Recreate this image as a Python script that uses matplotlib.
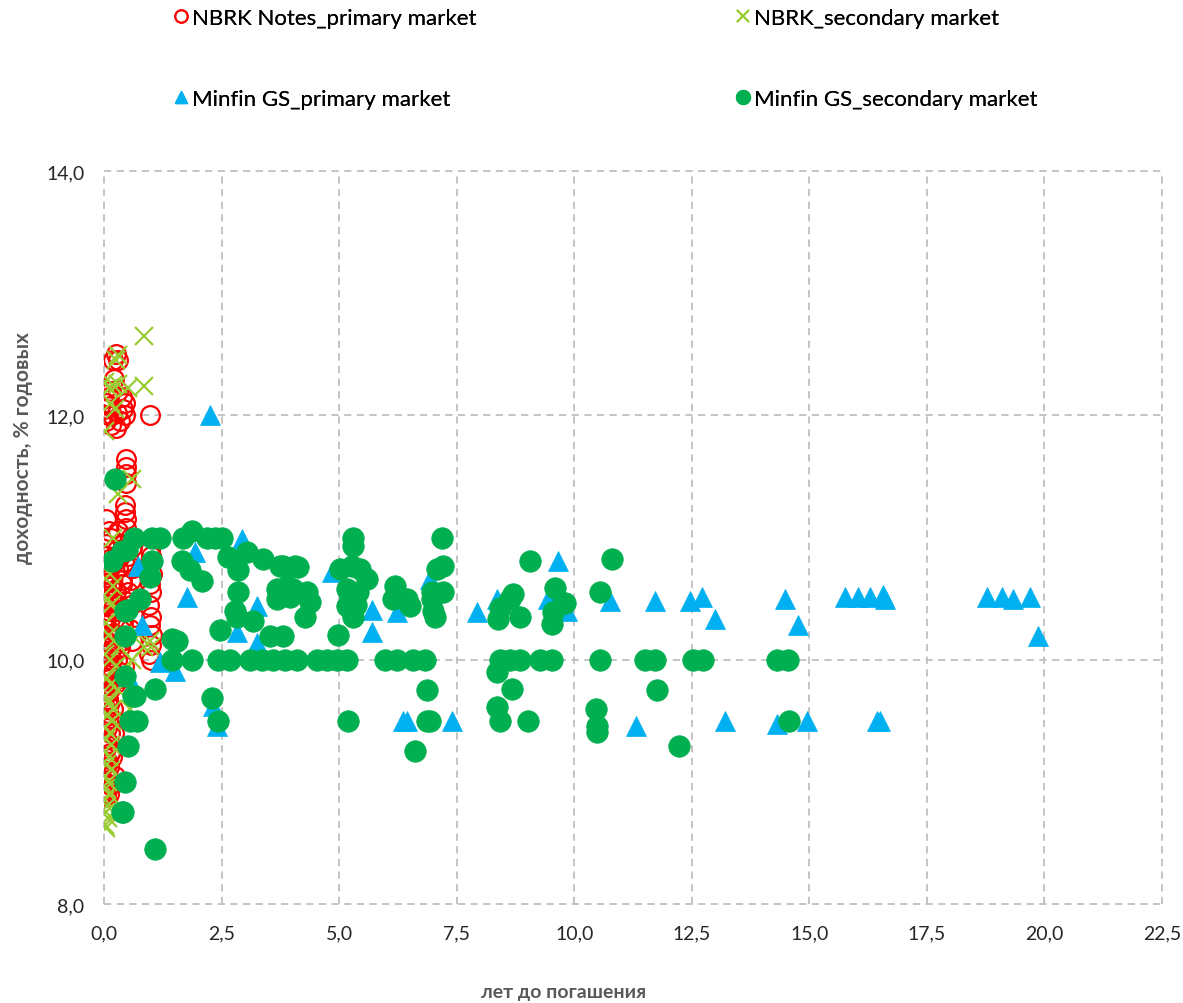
import matplotlib
matplotlib.use("Agg")
import matplotlib.pyplot as plt
from matplotlib.lines import Line2D
from matplotlib.ticker import FuncFormatter

plt.rcParams['font.family'] = ['Lato', 'DejaVu Sans']

# ---------------- data ----------------
series_names = ["NBRK Notes_primary market", "NBRK_secondary market",
                "Minfin GS_primary market", "Minfin GS_secondary market"]

nbrk_primary_x = [0.25, 0.20, 0.30, 0.22, 0.05, 0.10, 0.15, 0.30, 0.38, 0.45, 0.00, 0.08, 0.18, 0.28,
                  0.40, 0.45, 0.05, 0.15, 0.25, 0.35, 0.12, 0.98,
                  0.47, 0.47, 0.47, 0.47, 0.45, 0.45, 0.47, 0.47, 0.05, 0.10, 0.30, 0.15, 0.05,
                  0.02, 0.10, 0.05, 0.13, 0.02, 0.09, 0.04, 0.12, 0.02, 0.08, 0.14, 0.03, 0.10, 0.05,
                  0.13, 0.02, 0.08, 0.11, 0.03, 0.07, 0.14, 0.02, 0.09, 0.05, 0.12, 0.03, 0.10, 0.06,
                  0.13, 0.02, 0.08, 0.11, 0.04, 0.09, 0.14, 0.02, 0.07, 0.12, 0.03, 0.10, 0.05, 0.13,
                  0.02, 0.08, 0.11, 0.04, 0.09, 0.03, 0.12, 0.06, 0.02, 0.10, 0.05, 0.08, 0.03, 0.11,
                  0.06, 0.02, 0.09, 0.04, 0.07, 0.03, 0.05, 0.02,
                  0.28, 0.35, 0.30, 0.38, 0.25, 0.32, 0.36, 0.28, 0.33, 0.27, 0.35, 0.30,
                  0.55, 0.60, 0.52, 0.62, 0.57, 0.50, 0.58, 0.63, 0.55, 0.60,
                  0.97, 1.00, 0.95, 1.02, 0.98, 1.01, 0.96, 1.00, 0.97, 1.02, 0.99, 0.95, 1.00,
                  0.22, 0.18, 0.25, 0.20, 0.17, 0.23, 0.19, 0.21, 0.16, 0.24, 0.20, 0.18,
                  0.40, 0.42, 0.38, 0.44, 0.40, 0.36, 0.43, 0.39]
nbrk_primary_y = [12.50, 12.45, 12.45, 12.30, 12.10, 12.15, 12.20, 12.20, 12.15, 12.10, 12.05, 12.00, 12.00, 12.02,
                  12.05, 12.00, 11.95, 11.92, 11.90, 11.95, 12.08, 12.00,
                  11.64, 11.58, 11.52, 11.45, 11.27, 11.21, 11.15, 11.08, 11.15, 11.05, 11.05, 11.00, 10.95,
                  10.85, 10.82, 10.78, 10.75, 10.70, 10.68, 10.63, 10.60, 10.55, 10.52, 10.48, 10.45, 10.40, 10.36,
                  10.33, 10.28, 10.25, 10.20, 10.16, 10.12, 10.08, 10.04, 10.00, 9.96, 9.92, 9.88, 9.84, 9.80,
                  9.76, 9.72, 9.68, 9.64, 9.60, 9.56, 9.52, 9.48, 9.44, 9.40, 9.36, 9.32, 9.28, 9.24,
                  9.20, 9.16, 9.12, 9.08, 9.04, 9.00, 8.97, 8.94, 8.92, 8.90, 8.88, 9.50, 9.70, 9.90,
                  10.10, 10.30, 10.50, 10.65, 9.30, 9.15, 9.05, 8.95,
                  10.90, 10.85, 10.75, 10.65, 10.55, 10.45, 10.30, 10.20, 10.10, 10.00, 9.90, 10.40,
                  11.00, 10.92, 10.85, 10.75, 10.65, 10.55, 10.45, 10.35, 10.25, 10.15,
                  10.90, 10.85, 10.78, 10.70, 10.62, 10.55, 10.45, 10.35, 10.28, 10.20, 10.12, 10.05, 10.00,
                  10.80, 10.60, 10.40, 10.20, 10.00, 9.80, 9.60, 9.40, 9.20, 9.05, 9.90, 10.50,
                  10.95, 10.80, 10.62, 10.48, 10.30, 10.15, 9.95, 9.85]

nbrk_secondary_x = [0.85, 0.30, 0.25, 0.02, 0.10, 0.20, 0.30, 0.50, 0.85, 0.15, 0.23, 0.02, 0.60, 0.30, 0.19,
                    0.05, 0.12, 0.20, 0.08, 0.15, 0.28, 0.05, 0.10, 0.22, 0.35, 0.03, 0.12, 0.25, 0.40,
                    0.06, 0.15, 0.30, 0.45, 0.02, 0.10, 0.20, 0.08, 0.18, 0.03, 0.12, 0.05, 0.15, 0.02,
                    0.10, 0.06, 0.14, 0.03, 0.09, 0.05, 0.11, 0.02, 0.07, 0.04, 0.08, 0.02, 0.05,
                    0.98, 1.00, 0.75, 0.85, 0.55, 0.60]
nbrk_secondary_y = [12.65, 12.49, 12.45, 12.27, 12.22, 12.25, 12.26, 12.22, 12.24, 12.10, 12.05, 11.87, 11.48, 11.36, 11.00,
                    10.80, 10.70, 10.60, 10.50, 10.45, 10.40, 10.30, 10.20, 10.15, 10.10, 10.05, 10.00, 9.95, 9.90,
                    9.85, 9.80, 9.75, 9.82, 9.70, 9.65, 9.60, 9.55, 9.50, 9.45, 9.40, 9.35, 9.30, 9.25,
                    9.20, 9.15, 9.10, 9.05, 9.00, 8.95, 8.90, 8.85, 8.80, 8.75, 8.70, 8.65, 8.62,
                    10.15, 10.10, 10.20, 10.10, 9.60, 10.00]

minfin_primary_x = [2.25, 2.94, 1.76, 1.94, 0.73, 0.81, 2.83, 3.25, 3.25, 1.19, 1.51, 2.32, 2.40, 0.51,
                    4.85, 5.70, 5.70, 6.23, 6.93, 6.36, 6.44, 7.40, 7.93, 8.36, 9.66, 9.44, 9.85,
                    10.76, 11.72, 12.46, 12.72, 12.99, 14.48, 14.76, 15.76, 16.04, 16.29, 16.57, 16.61,
                    18.78, 19.10, 19.33, 19.69, 19.86, 16.44, 16.50, 11.31, 13.21, 14.31, 14.95]
minfin_primary_y = [12.00, 10.99, 10.51, 10.88, 10.77, 10.28, 10.23, 10.44, 10.14, 9.98, 9.91, 9.62, 9.46, 9.87,
                    10.72, 10.41, 10.23, 10.39, 10.66, 9.50, 9.50, 9.50, 10.39, 10.50, 10.81, 10.50, 10.40,
                    10.48, 10.48, 10.48, 10.51, 10.33, 10.50, 10.28, 10.51, 10.51, 10.51, 10.53, 10.50,
                    10.51, 10.51, 10.50, 10.51, 10.19, 9.50, 9.50, 9.46, 9.50, 9.47, 9.50]

minfin_secondary_x = [0.23, 0.64, 1.02, 1.19, 1.68, 1.87, 2.19, 2.35, 2.51,
                      0.18, 0.38, 0.49, 1.02, 0.98, 1.66, 1.83, 2.08, 2.64, 2.85, 3.04, 3.38, 3.81, 4.13, 3.74, 4.06,
                      2.85, 3.68, 3.68, 4.02, 4.32, 4.38, 4.27, 0.77, 0.45, 0.49, 2.79, 2.83, 3.17, 3.89, 3.96,
                      0.45, 1.45, 1.55, 2.47, 3.53, 3.81, 4.98,
                      1.45, 1.87, 2.42, 2.68, 3.10, 3.36, 3.60, 3.85, 4.10, 4.53, 4.74, 4.96, 5.17,
                      5.98, 6.23, 6.57, 6.83, 8.42, 8.63, 8.85, 9.27, 9.53, 10.55, 11.50, 11.72, 12.53, 12.74,
                      14.31, 14.55,
                      0.45, 0.62, 0.66, 1.08, 2.30, 2.42, 0.55, 0.70, 0.51, 0.45, 0.38, 0.40, 1.08,
                      5.30, 5.30, 7.19, 9.06, 5.02, 5.27, 5.44, 5.59, 7.21, 7.08, 5.17, 5.23, 5.40, 5.17, 5.27,
                      5.35, 5.30, 6.19, 6.15, 6.51, 6.44, 6.98, 7.21, 6.98, 7.00, 7.04, 8.70, 8.63, 8.42, 8.38,
                      8.85, 9.59, 9.76, 9.55, 9.53, 10.80, 10.55, 9.80,
                      8.36, 6.87, 8.68, 8.36, 8.42, 9.02, 6.87, 6.93, 5.19, 6.61, 11.76, 10.46, 10.48, 10.48,
                      12.23, 14.57]
minfin_secondary_y = [11.48, 11.00, 11.00, 11.00, 11.00, 11.05, 11.00, 11.00, 11.00,
                      10.81, 10.89, 10.90, 10.81, 10.68, 10.81, 10.73, 10.64, 10.84, 10.73, 10.88, 10.82, 10.77, 10.76, 10.77, 10.77,
                      10.55, 10.58, 10.50, 10.58, 10.55, 10.47, 10.35, 10.50, 10.40, 10.41, 10.40, 10.35, 10.32, 10.60, 10.51,
                      10.19, 10.17, 10.15, 10.24, 10.19, 10.19, 10.20,
                      10.00, 10.00, 10.00, 10.00, 10.00, 10.00, 10.00, 10.00, 10.00, 10.00, 10.00, 10.00, 10.00,
                      10.00, 10.00, 10.00, 10.00, 10.00, 10.00, 10.00, 10.00, 10.00, 10.00, 10.00, 10.00, 10.00, 10.00,
                      10.00, 10.00,
                      9.87, 9.70, 9.70, 9.76, 9.69, 9.50, 9.50, 9.50, 9.29, 9.00, 8.75, 8.75, 8.45,
                      11.00, 10.93, 11.00, 10.81, 10.74, 10.77, 10.74, 10.66, 10.77, 10.74, 10.58, 10.50, 10.55, 10.44, 10.40,
                      10.45, 10.35, 10.60, 10.50, 10.44, 10.50, 10.55, 10.55, 10.50, 10.40, 10.35, 10.54, 10.50, 10.42, 10.33,
                      10.35, 10.59, 10.46, 10.39, 10.29, 10.82, 10.55, 10.46,
                      9.90, 9.75, 9.76, 9.61, 9.50, 9.50, 9.50, 9.50, 9.50, 9.25, 9.75, 9.60, 9.46, 9.41,
                      9.29, 9.50]

x_ticks = [0.0, 2.5, 5.0, 7.5, 10.0, 12.5, 15.0, 17.5, 20.0, 22.5]
y_ticks = [8.0, 10.0, 12.0, 14.0]
x_label = "лет до погашения"
y_label = "доходность, % годовых"

# ---------------- colours ----------------
c_red = "#FF0000"
c_lime = "#99CC33"
c_blue = "#00B0F0"
c_green = "#00B050"
grid_c = "#BFBFBF"
txt_c = "#262626"
lbl_c = "#595959"

W, H = 1183, 1004
fig = plt.figure(figsize=(W / 100, H / 100), dpi=100)
ax = fig.add_axes([104 / W, 1 - 905 / H, (1162 - 104) / W, (905 - 172) / H])

ax.plot(nbrk_primary_x, nbrk_primary_y, linestyle="none", marker="o", markersize=13.5,
        markerfacecolor="none", markeredgecolor=c_red, markeredgewidth=1.6, zorder=3)
ax.plot(nbrk_secondary_x, nbrk_secondary_y, linestyle="none", marker="x", markersize=13,
        markeredgecolor=c_lime, markeredgewidth=1.6, zorder=4)
ax.plot(minfin_primary_x, minfin_primary_y, linestyle="none", marker="^", markersize=15,
        markerfacecolor=c_blue, markeredgecolor=c_blue, markeredgewidth=0.5, zorder=5)
ax.plot(minfin_secondary_x, minfin_secondary_y, linestyle="none", marker="o", markersize=15.5,
        markerfacecolor=c_green, markeredgecolor=c_green, markeredgewidth=0.5, zorder=6)

ax.set_xlim(0, 22.5)
ax.set_ylim(8, 14)
ax.set_xticks(x_ticks)
ax.set_yticks(y_ticks)
fmt = FuncFormatter(lambda v, p: f"{v:.1f}".replace(".", ","))
ax.xaxis.set_major_formatter(fmt)
ax.yaxis.set_major_formatter(fmt)
ax.tick_params(axis="both", length=0, labelsize=14, colors=txt_c)
ax.tick_params(axis="x", pad=15)
ax.tick_params(axis="y", pad=14)
for s in ax.spines.values():
    s.set_visible(False)
ax.grid(True, color=grid_c, linestyle=(0, (4, 3)), linewidth=1.3, zorder=0)
ax.set_axisbelow(True)
for g in ax.get_xgridlines() + ax.get_ygridlines():
    g.set_clip_on(False)

fig.text(564 / W, 1 - 993 / H, x_label, ha="center", va="center", fontsize=14,
         fontweight="bold", color=lbl_c)
fig.text(23 / W, 1 - 448 / H, y_label, ha="center", va="center", rotation=90, fontsize=15,
         fontweight="bold", color=lbl_c)

# legend: four single-entry legends
handles = [
    Line2D([], [], linestyle="none", marker="o", markersize=9, markerfacecolor="none",
           markeredgecolor=c_red, markeredgewidth=1.4),
    Line2D([], [], linestyle="none", marker="x", markersize=9, markeredgecolor=c_lime,
           markeredgewidth=1.4),
    Line2D([], [], linestyle="none", marker="^", markersize=9, markerfacecolor=c_blue,
           markeredgecolor=c_blue),
    Line2D([], [], linestyle="none", marker="o", markersize=10, markerfacecolor=c_green,
           markeredgecolor=c_green),
]
positions = [(175, 19), (737, 19), (175, 100), (737, 100)]
for h, name, (px, py) in zip(handles, series_names, positions):
    lg = fig.legend([h], [name], loc="center left", bbox_to_anchor=(px / W, 1 - py / H),
                    frameon=False, fontsize=16, handlelength=0.55, handletextpad=0.2,
                    borderaxespad=0, borderpad=0, labelcolor="#000000")
    fig.add_artist(lg)

fig.savefig("out.png", dpi=100)
